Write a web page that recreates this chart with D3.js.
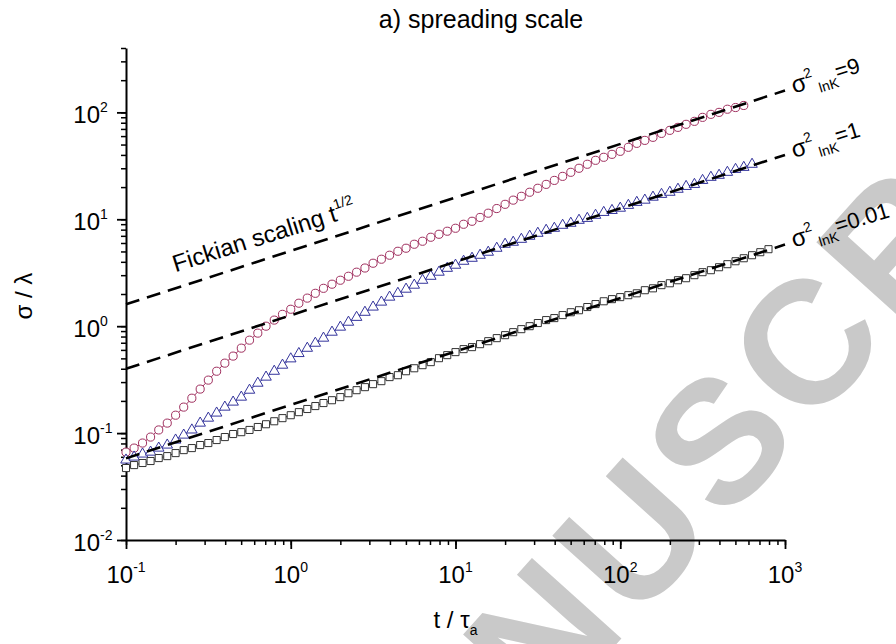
<!DOCTYPE html>
<html>
<head>
<meta charset="utf-8">
<script src="https://cdn.jsdelivr.net/npm/d3@7"></script>
<style>
body { margin: 0; background: #fff; }
svg { display: block; font-family: "Liberation Sans", Arial, sans-serif; }
</style>
</head>
<body>
<svg width="896" height="644"></svg>
<script>
// t / tau_a sample times, 20 per decade
var times = [0.1, 0.112, 0.126, 0.141, 0.158, 0.178, 0.2, 0.224, 0.251, 0.282,
  0.316, 0.355, 0.398, 0.447, 0.501, 0.562, 0.631, 0.708, 0.794, 0.891,
  1, 1.12, 1.26, 1.41, 1.58, 1.78, 2, 2.24, 2.51, 2.82,
  3.16, 3.55, 3.98, 4.47, 5.01, 5.62, 6.31, 7.08, 7.94, 8.91,
  10, 11.2, 12.6, 14.1, 15.8, 17.8, 20, 22.4, 25.1, 28.2,
  31.6, 35.5, 39.8, 44.7, 50.1, 56.2, 63.1, 70.8, 79.4, 89.1,
  100, 112, 126, 141, 158, 178, 200, 224, 251, 282,
  316, 355, 398, 447, 501, 562, 631, 708, 794];

// sigma / lambda, circles (sigma^2 lnK = 9)
var sigma9 = [0.0664, 0.0724, 0.0807, 0.0918, 0.107, 0.124, 0.147, 0.175, 0.212, 0.258,
  0.313, 0.379, 0.451, 0.525, 0.623, 0.740, 0.861, 1.00, 1.14, 1.29,
  1.44, 1.64, 1.83, 2.03, 2.26, 2.47, 2.69, 2.93, 3.20, 3.50,
  3.88, 4.23, 4.61, 5.02, 5.36, 5.84, 6.23, 6.79, 7.24, 7.73,
  8.24, 8.98, 9.58, 10.4, 11.4, 12.6, 13.8, 15.1, 16.4, 17.9,
  19.5, 21.2, 23.1, 25.2, 27.5, 30.0, 32.7, 35.6, 38.0, 40.5,
  43.2, 47.1, 51.3, 54.7, 58.4, 63.6, 67.9, 72.4, 77.3, 82.4,
  89.8, 95.8, 100, 107, 111, 116];

// triangles (sigma^2 lnK = 1)
var sigma1 = [0.056, 0.0597, 0.0637, 0.0664, 0.0724, 0.0773, 0.0861, 0.0958, 0.107, 0.124,
  0.138, 0.154, 0.175, 0.195, 0.217, 0.252, 0.293, 0.334, 0.379, 0.432,
  0.495, 0.555, 0.622, 0.693, 0.773, 0.879, 0.98, 1.09, 1.21, 1.35,
  1.51, 1.68, 1.87, 2.03, 2.22, 2.42, 2.69, 2.93, 3.20, 3.48,
  3.72, 4.05, 4.32, 4.61, 4.92, 5.36, 5.84, 6.10, 6.50, 6.94,
  7.40, 7.89, 8.24, 8.79, 9.18, 9.79, 10.2, 10.9, 11.6, 12.1,
  12.7, 13.5, 14.4, 15.1, 16.1, 17.1, 17.9, 19.1, 20.3, 21.2,
  23.1, 24.7, 25.8, 27.5, 29.3, 30.6, 32.7];

// squares (sigma^2 lnK = 0.01)
var sigma001 = [0.0471, 0.0502, 0.0525, 0.0548, 0.0584, 0.0609, 0.0650, 0.0693, 0.0724, 0.0773,
  0.0807, 0.0861, 0.0918, 0.098, 0.102, 0.107, 0.114, 0.121, 0.129, 0.138,
  0.147, 0.157, 0.168, 0.179, 0.191, 0.203, 0.217, 0.236, 0.252, 0.269,
  0.287, 0.306, 0.334, 0.348, 0.379, 0.404, 0.432, 0.461, 0.502, 0.536,
  0.572, 0.610, 0.637, 0.679, 0.724, 0.773, 0.824, 0.879, 0.938, 1.0,
  1.07, 1.14, 1.19, 1.27, 1.35, 1.41, 1.51, 1.61, 1.71, 1.79,
  1.87, 1.95, 2.03, 2.17, 2.26, 2.42, 2.52, 2.69, 2.81, 3.00,
  3.20, 3.34, 3.56, 3.80, 4.05, 4.32, 4.61, 4.92, 5.25];

// fickian t^1/2 reference lines, value at t = 0.1 and t = 1000
var fickT = [0.1, 1000];
var fick9 = [1.6, 160];
var fick1 = [0.4, 40];
var fick001 = [0.058, 5.8];

var seriesLabels = ['9', '1', '0.01'];
var xTickExp = ['-1', '0', '1', '2', '3'];
var yTickExp = ['-2', '-1', '0', '1', '2'];

var svg = d3.select('svg'),
margin = {top: 48, right: 111, bottom: 104, left: 126},
width = +svg.attr('width') - margin.left - margin.right,
height = +svg.attr('height') - margin.top - margin.bottom;

svg.append('rect').attr('width', 896).attr('height', 644).attr('fill', '#fff');

// the grey watermark behind everything
svg.append('text')
.attr('transform', 'translate(352,938) rotate(-48)')
.attr('font-size', 175)
.attr('font-weight', 'bold')
.attr('letter-spacing', 8)
.attr('fill', '#c9c9c9')
.text('MANUSCRIPT');

var g = svg.append('g').attr('transform', 'translate(' + margin.left + ',' + margin.top + ')');

var x = d3.scaleLog().domain([0.1, 1000]).range([0, width]),
y = d3.scaleLog().domain([0.01, 400]).range([height, 0]);

// axes: minor ticks first, then majors on top
var xMajor = [0.1, 1, 10, 100, 1000];
var yMajor = [0.01, 0.1, 1, 10, 100];

g.append('g')
.attr('transform', 'translate(0,' + height + ')')
.call(d3.axisBottom(x).tickValues(x.ticks()).tickSize(5).tickSizeOuter(0).tickFormat(''))
.call(function(a) { a.select('.domain').attr('stroke-width', 2); a.selectAll('line').attr('stroke-width', 1.5); });
g.append('g')
.attr('transform', 'translate(0,' + height + ')')
.call(d3.axisBottom(x).tickValues(xMajor).tickSize(9).tickSizeOuter(0).tickFormat(''))
.call(function(a) { a.select('.domain').remove(); a.selectAll('line').attr('stroke-width', 1.8); });

g.append('g')
.call(d3.axisLeft(y).tickValues(y.ticks()).tickSize(5).tickSizeOuter(0).tickFormat(''))
.call(function(a) { a.select('.domain').attr('stroke-width', 2); a.selectAll('line').attr('stroke-width', 1.5); });
g.append('g')
.call(d3.axisLeft(y).tickValues(yMajor).tickSize(9).tickSizeOuter(0).tickFormat(''))
.call(function(a) { a.select('.domain').remove(); a.selectAll('line').attr('stroke-width', 1.8); });

// tick labels 10^n
var xl = g.selectAll('.xlab').data(xMajor).enter().append('text')
.attr('class', 'xlab')
.attr('x', function(d) { return x(d); })
.attr('y', height + 43)
.attr('text-anchor', 'middle')
.attr('font-size', 24);
xl.append('tspan').text('10');
xl.append('tspan').attr('font-size', 14).attr('dy', -11).text(function(d, i) { return xTickExp[i]; });

yMajor.forEach(function(d, i) {
g.append('text')
.attr('x', -26).attr('y', y(d) + 11)
.attr('text-anchor', 'end').attr('font-size', 24)
.text('10');
g.append('text')
.attr('x', -26).attr('y', y(d))
.attr('font-size', 14)
.text(yTickExp[i]);
});

// series: thin line joining the markers
var series = [
{v: sigma9, color: '#a0305f', sym: d3.symbolCircle, size: 52},
{v: sigma1, color: '#34349c', sym: d3.symbolTriangle, size: 48},
{v: sigma001, color: '#333333', sym: d3.symbolSquare, size: 50}
];

var line = d3.line()
.x(function(d) { return x(d[0]); })
.y(function(d) { return y(d[1]); });

series.forEach(function(s) {
var pts = s.v.map(function(v, i) { return [times[i], v]; });
g.append('path')
.attr('d', line(pts))
.attr('fill', 'none')
.attr('stroke', s.color)
.attr('stroke-width', 1);
g.selectAll(null).data(pts).enter().append('path')
.attr('d', d3.symbol().type(s.sym).size(s.size))
.attr('transform', function(d) { return 'translate(' + x(d[0]) + ',' + y(d[1]) + ')'; })
.attr('fill', '#fff')
.attr('stroke', s.color)
.attr('stroke-width', 1);
});

// dashed t^1/2 lines on top
[fick9, fick1, fick001].forEach(function(f, k) {
var pts = fickT.map(function(t, i) { return [t, f[i]]; });
g.append('path')
.attr('d', line(pts))
.attr('fill', 'none')
.attr('stroke', '#000')
.attr('stroke-width', 2.6)
.attr('stroke-dasharray', '14,8');

var lab = g.append('text')
.attr('transform', 'translate(' + (x(1000) + 9) + ',' + (y(f[1]) + 3) + ') rotate(-17)')
.attr('font-size', 24);
lab.append('tspan').text('σ');
lab.append('tspan').attr('font-size', 14).attr('dy', -11).text('2');
lab.append('tspan').attr('font-size', 14).attr('dx', 3).attr('dy', 18).text('lnK');
lab.append('tspan').attr('font-size', 22).attr('dy', -8).text('=' + seriesLabels[k]);
});

// annotation along the top line
var fk = g.append('text')
.attr('transform', 'translate(' + x(0.2) + ',' + y(3.2) + ') rotate(-17.5)')
.attr('font-size', 24);
fk.append('tspan').text('Fickian scaling t');
fk.append('tspan').attr('font-size', 14).attr('dy', -12).text('1/2');

// titles
svg.append('text')
.attr('x', 481).attr('y', 28)
.attr('text-anchor', 'middle')
.attr('font-size', 25)
.text('a) spreading scale');

var xt = svg.append('text')
.attr('x', margin.left + x(10)).attr('y', 628)
.attr('text-anchor', 'middle')
.attr('font-size', 24);
xt.append('tspan').text('t / τ');
xt.append('tspan').attr('font-size', 14).attr('dy', 7).text('a');

svg.append('text')
.attr('transform', 'translate(32,' + (margin.top + y(1) - 30) + ') rotate(-90)')
.attr('text-anchor', 'middle')
.attr('font-size', 24)
.text('σ / λ');
</script>
</body>
</html>
